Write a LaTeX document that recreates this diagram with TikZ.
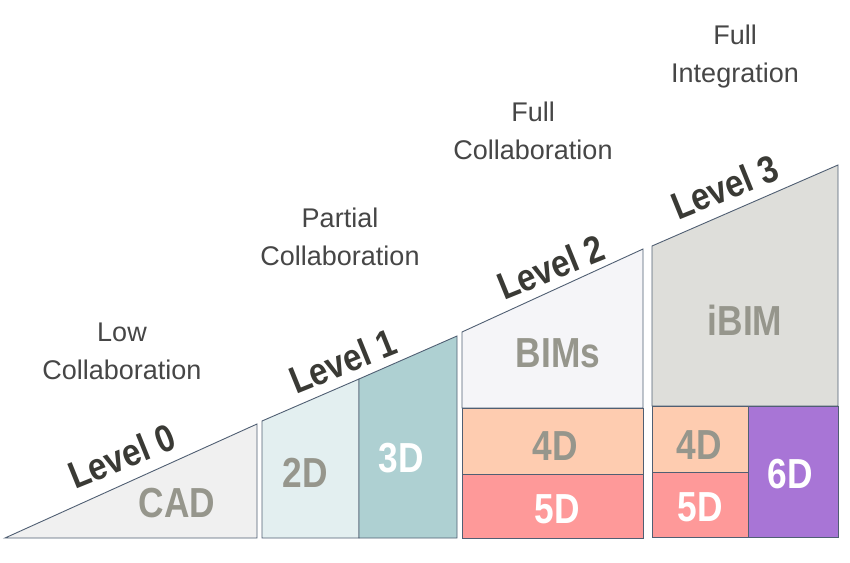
\documentclass[tikz,border=0pt]{standalone}
\usepackage{fontspec}
\usepackage{graphicx}
\setmainfont{Liberation Sans}
\definecolor{edge}{RGB}{80,95,115}
\definecolor{lvltxt}{RGB}{58,58,53}
\definecolor{toptxt}{RGB}{70,70,70}
\definecolor{boxtxt}{RGB}{150,150,140}
\definecolor{cadfill}{RGB}{240,240,240}
\definecolor{twodfill}{RGB}{227,239,240}
\definecolor{threedfill}{RGB}{174,208,210}
\definecolor{bimfill}{RGB}{245,245,248}
\definecolor{fourdfill}{RGB}{254,204,176}
\definecolor{fivedfill}{RGB}{254,153,153}
\definecolor{ibimfill}{RGB}{222,222,218}
\definecolor{sixdfill}{RGB}{168,117,214}
\newcommand{\narrowlbl}[1]{\scalebox{0.84}[1]{#1}}
\newcommand{\talllbl}[1]{\scalebox{0.97}[1.12]{#1}}
\tikzset{
  panel/.style={draw=edge, line width=0.9pt, line join=miter},
  lvl/.style={font=\fontsize{34}{34}\selectfont\bfseries, text=lvltxt, rotate=22, inner sep=0pt},
  toplbl/.style={font=\fontsize{27}{38}\selectfont, text=toptxt, align=center, inner sep=0pt},
  greylbl/.style={font=\fontsize{42}{42}\selectfont\bfseries, text=boxtxt, inner sep=0pt},
  whitelbl/.style={font=\fontsize{42}{42}\selectfont\bfseries, text=white, inner sep=0pt}
}
\begin{document}
\begin{tikzpicture}[x=1pt,y=-1pt]
\useasboundingbox (0,0) rectangle (850,562);
\fill[white] (0,0) rectangle (850,562);
% Level 0
\draw[panel, fill=cadfill] (5,538) -- (257,424) -- (257,538) -- cycle;
% Level 1
\draw[panel, fill=twodfill] (262,421) -- (359,379) -- (359,538) -- (262,538) -- cycle;
\draw[panel, fill=threedfill] (359,379) -- (457,336) -- (457,538) -- (359,538) -- cycle;
% Level 2
\draw[panel, fill=bimfill] (462,332) -- (643,249) -- (643,408) -- (462,408) -- cycle;
\draw[panel, fill=fourdfill] (462,408) rectangle (643,474);
\draw[panel, fill=fivedfill] (462,474) rectangle (643,538);
% Level 3
\draw[panel, fill=ibimfill] (652,246) -- (838,165) -- (838,406) -- (652,406) -- cycle;
\draw[panel, fill=fourdfill] (652,406) rectangle (748,472);
\draw[panel, fill=fivedfill] (652,472) rectangle (748,537);
\draw[panel, fill=sixdfill] (748,406) rectangle (838,537);
% level labels
\node[lvl] (l0) at (122,456) {\talllbl{Level 0}};
\node[lvl] (l1) at (343,361) {\talllbl{Level 1}};
\node[lvl] (l2) at (551,267) {\talllbl{Level 2}};
\node[lvl] (l3) at (725,187) {\talllbl{Level 3}};
% top labels
\node[toplbl] (t0) at (122,351) {Low\\Collaboration};
\node[toplbl] (t1) at (340,237) {Partial\\Collaboration};
\node[toplbl] (t2) at (533,131) {Full\\Collaboration};
\node[toplbl] (t3) at (735,57) {Full\\Integration};
% box labels
\node[greylbl] (cad) at (177,503) {\narrowlbl{CAD}};
\node[greylbl] (d2) at (305,473) {\narrowlbl{2D}};
\node[whitelbl] (d3) at (401,458) {\narrowlbl{3D}};
\node[greylbl] (bims) at (558,353) {\narrowlbl{BIMs}};
\node[greylbl] (d4a) at (555,446) {\narrowlbl{4D}};
\node[whitelbl] (d5a) at (557,509) {\narrowlbl{5D}};
\node[greylbl] (ibim) at (745,320) {\narrowlbl{iBIM}};
\node[greylbl] (d4b) at (699,445) {\narrowlbl{4D}};
\node[whitelbl] (d5b) at (700,507) {\narrowlbl{5D}};
\node[whitelbl] (d6) at (790,474) {\narrowlbl{6D}};
\end{tikzpicture}
\end{document}
